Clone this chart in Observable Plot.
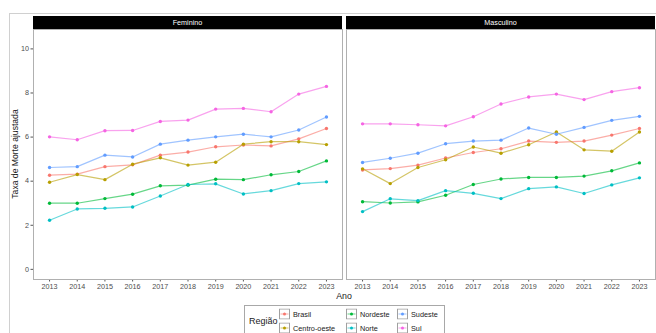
<!DOCTYPE html>
<html>
<head>
<meta charset="utf-8">
<script src="https://cdn.jsdelivr.net/npm/d3@7"></script>
<script src="https://cdn.jsdelivr.net/npm/@observablehq/plot@0.6"></script>
<style>
  body { margin: 0; background: #fff; font-family: "Liberation Sans", Arial, sans-serif; }
  #wrap { position: relative; width: 656px; height: 333px; overflow: hidden; background: #fff; }
  #frame { position: absolute; left: 9px; top: 13px; right: -2px; bottom: -2px;
           border-top: 1px solid #d0d0d0; border-left: 1px solid #d0d0d0; }
  #chart { position: absolute; left: 0; top: 0; }
  #ytitle { position: absolute; left: 15px; top: 154px; transform: translate(-50%, -50%) rotate(-90deg);
            font-size: 8.6px; color: #1a1a1a; white-space: nowrap; }
  #xtitle { position: absolute; left: 344px; top: 296px; transform: translate(-50%, -50%);
            font-size: 8.8px; color: #1a1a1a; }
  #legend { position: absolute; left: 244px; top: 305px; width: 201px; height: 34px;
            border: 1px solid #a8a8a8; box-sizing: border-box; }
  #legend .title { position: absolute; left: 4px; top: 15px; transform: translateY(-50%);
                   font-size: 9px; color: #1a1a1a; }
  #legend .item { position: absolute; display: flex; align-items: center; font-size: 7.3px; color: #1a1a1a; white-space: nowrap; }
  #legend .item svg { margin-right: 3px; display: block; }
  .strip-label { fill: #fff; }
</style>
</head>
<body>
<div id="wrap">
  <div id="frame"></div>
  <div id="chart"></div>
  <div id="ytitle">Taxa de Morte ajustada</div>
  <div id="xtitle">Ano</div>
  <div id="legend"><div class="title">Região</div></div>
</div>
<script>
// Anos, painéis e regiões
const anos = [2013, 2014, 2015, 2016, 2017, 2018, 2019, 2020, 2021, 2022, 2023];
const sexos = ["Feminino", "Masculino"];
const regioes = ["Brasil", "Centro-oeste", "Nordeste", "Norte", "Sudeste", "Sul"];
const cores = ["#F8766D", "#B79F00", "#00BA38", "#00BFC4", "#619CFF", "#F564E3"];
const yTicks = [0, 2, 4, 6, 8, 10];

// Taxa de morte ajustada — Feminino
const femBrasil      = [4.27, 4.32, 4.66, 4.74, 5.18, 5.32, 5.56, 5.64, 5.60, 5.92, 6.39];
const femCentroOeste = [3.95, 4.30, 4.07, 4.77, 5.06, 4.73, 4.86, 5.68, 5.79, 5.79, 5.66];
const femNordeste    = [3.00, 3.00, 3.21, 3.41, 3.79, 3.82, 4.09, 4.07, 4.29, 4.44, 4.92];
const femNorte       = [2.23, 2.74, 2.77, 2.83, 3.33, 3.85, 3.88, 3.42, 3.57, 3.89, 3.97];
const femSudeste     = [4.62, 4.66, 5.18, 5.10, 5.68, 5.86, 6.01, 6.13, 6.01, 6.32, 6.91];
const femSul         = [6.01, 5.88, 6.29, 6.30, 6.71, 6.77, 7.27, 7.30, 7.15, 7.95, 8.30];

// Taxa de morte ajustada — Masculino
const mascBrasil      = [4.51, 4.57, 4.73, 5.05, 5.30, 5.47, 5.82, 5.76, 5.82, 6.09, 6.39];
const mascCentroOeste = [4.56, 3.89, 4.62, 4.97, 5.55, 5.27, 5.65, 6.23, 5.42, 5.36, 6.23];
const mascNordeste    = [3.07, 3.01, 3.06, 3.36, 3.85, 4.10, 4.17, 4.17, 4.23, 4.47, 4.83];
const mascNorte       = [2.62, 3.20, 3.12, 3.57, 3.45, 3.21, 3.66, 3.74, 3.44, 3.83, 4.15];
const mascSudeste     = [4.85, 5.04, 5.27, 5.70, 5.82, 5.86, 6.41, 6.13, 6.44, 6.76, 6.94];
const mascSul         = [6.60, 6.60, 6.56, 6.51, 6.92, 7.50, 7.82, 7.95, 7.70, 8.06, 8.24];

const series = {
  Feminino:  [femBrasil, femCentroOeste, femNordeste, femNorte, femSudeste, femSul],
  Masculino: [mascBrasil, mascCentroOeste, mascNordeste, mascNorte, mascSudeste, mascSul]
};

// Tabela longa: sexo × região × ano
const dados = [];
for (const sexo of sexos) {
  series[sexo].forEach((valores, i) => {
    valores.forEach((taxa, j) => dados.push({sexo, regiao: regioes[i], ano: anos[j], taxa}));
  });
}

const font = '"Liberation Sans", Arial, sans-serif';

const plot = Plot.plot({
  width: 656,
  height: 300,
  marginLeft: 33,
  marginRight: 1,
  marginTop: 29,
  marginBottom: 21,
  style: {fontFamily: font, fontSize: "7.2px", color: "#4d4d4d", background: "transparent", overflow: "visible"},
  fx: {domain: sexos, paddingInner: 0.013, paddingOuter: 0, axis: null, label: null},
  x: {domain: [2012.42, 2023.58], label: null},
  y: {domain: [-0.46, 10.88], label: null},
  color: {domain: regioes, range: cores},
  marks: [
    Plot.axisY({ticks: yTicks, tickSize: 2.5, tickPadding: 2, stroke: "#555", label: null}),
    Plot.axisX({ticks: anos, tickFormat: d => String(d), tickSize: 2.5, tickPadding: 1.5, stroke: "#555", label: null}),
    Plot.line(dados, {x: "ano", y: "taxa", fx: "sexo", z: "regiao", stroke: "regiao",
                      strokeWidth: 1.2, strokeOpacity: 0.6}),
    Plot.dot(dados, {x: "ano", y: "taxa", fx: "sexo", fill: "regiao", r: 1.7, stroke: "none"}),
    Plot.frame({stroke: "#b0b0b0", strokeWidth: 1})
  ]
});

// Faixas pretas com o nome de cada painel
const fxScale = plot.scale("fx");
const svg = d3.select(plot);
const strips = svg.append("g");
for (const s of sexos) {
  const x0 = fxScale.apply(s);
  const w = fxScale.bandwidth;
  strips.append("rect")
    .attr("x", x0).attr("y", 16).attr("width", w).attr("height", 13)
    .attr("fill", "#000");
  strips.append("text")
    .attr("class", "strip-label")
    .attr("x", x0 + w / 2).attr("y", 22.5)
    .attr("text-anchor", "middle").attr("dominant-baseline", "central")
    .style("fill", "#ffffff").style("font-size", "7.2px").style("font-family", font)
    .text(s);
}

document.getElementById("chart").appendChild(plot);

// Legenda: duas linhas, preenchida por coluna
const legend = document.getElementById("legend");
const colX = [34, 101, 152];
const rowY = [8, 22];
regioes.forEach((r, i) => {
  const col = Math.floor(i / 2), row = i % 2;
  const item = document.createElement("div");
  item.className = "item";
  item.style.left = colX[col] + "px";
  item.style.top = rowY[row] + "px";
  item.style.transform = "translateY(-50%)";
  item.innerHTML =
    `<svg width="11" height="11">
       <rect x="0.5" y="0.5" width="10" height="10" fill="#fff" stroke="#a0a0a0"/>
       <line x1="1.5" x2="9.5" y1="5.5" y2="5.5" stroke="${cores[i]}" stroke-opacity="0.6" stroke-width="1.1"/>
       <circle cx="5.5" cy="5.5" r="1.5" fill="${cores[i]}"/>
     </svg><span>${r}</span>`;
  legend.appendChild(item);
});
</script>
</body>
</html>
